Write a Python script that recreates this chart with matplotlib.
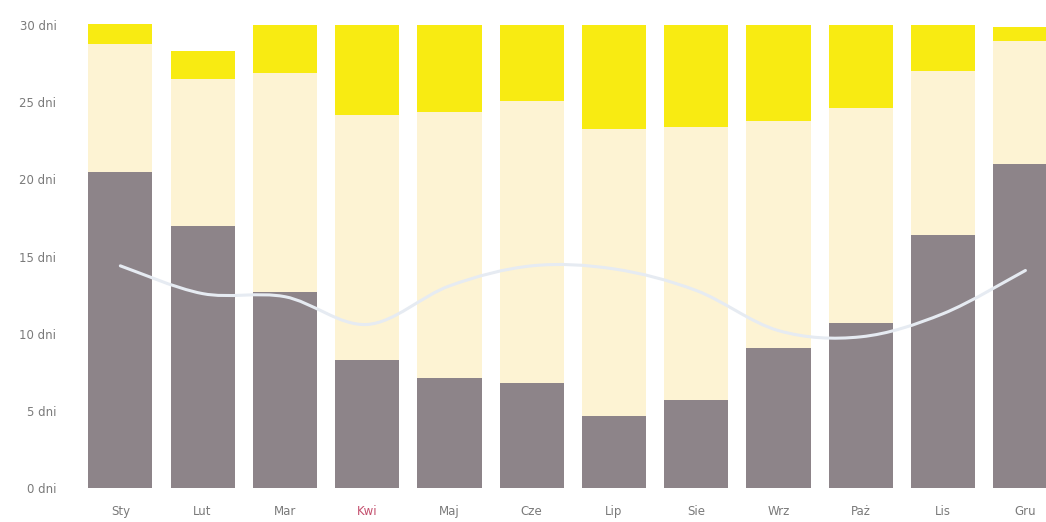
import matplotlib
matplotlib.use("Agg")
import matplotlib.pyplot as plt
from matplotlib.path import Path
from matplotlib.patches import PathPatch
import numpy as np

months = ["Sty", "Lut", "Mar", "Kwi", "Maj", "Cze", "Lip", "Sie", "Wrz", "Paż", "Lis", "Gru"]
dark_days = [20.5, 17.0, 12.7, 8.3, 7.1, 6.8, 4.7, 5.7, 9.1, 10.7, 16.4, 21.0]
cream_days = [8.3, 9.5, 14.2, 15.9, 17.3, 18.3, 18.6, 17.7, 14.7, 13.9, 10.6, 8.0]
yellow_days = [1.3, 1.8, 3.1, 5.8, 5.6, 4.9, 6.7, 6.6, 6.2, 5.4, 3.0, 0.9]
line_values = [14.4, 12.6, 12.4, 10.6, 13.1, 14.4, 14.2, 12.8, 10.2, 9.8, 11.3, 14.1]
ytick_values = [0, 5, 10, 15, 20, 25, 30]
ytick_labels = ["0 dni", "5 dni", "10 dni", "15 dni", "20 dni", "25 dni", "30 dni"]

c_dark = "#8d8489"
c_cream = "#fdf3d3"
c_yellow = "#f8eb12"
c_line = "#e6ebf2"

fig = plt.figure(figsize=(10.46, 5.22), dpi=100)
ax = fig.add_axes([0.0765, 0.0651, 0.9235, 0.8956])
x = np.arange(len(months))
w = 0.78
dark = np.array(dark_days)
cream = np.array(cream_days)
yellow = np.array(yellow_days)
ax.bar(x, dark, width=w, color=c_dark, zorder=2)
ax.bar(x, cream, width=w, bottom=dark, color=c_cream, zorder=2)
ax.bar(x, yellow, width=w, bottom=dark + cream, color=c_yellow, zorder=2)

# smooth line through the points (Catmull-Rom -> Bezier)
pts = np.column_stack([x, line_values]).astype(float)
verts = [tuple(pts[0])]
codes = [Path.MOVETO]
n = len(pts)
for i in range(n - 1):
    p0 = pts[i - 1] if i > 0 else pts[i]
    p1 = pts[i]
    p2 = pts[i + 1]
    p3 = pts[i + 2] if i + 2 < n else pts[i + 1]
    c1 = p1 + (p2 - p0) / 6.0
    c2 = p2 - (p3 - p1) / 6.0
    verts += [tuple(c1), tuple(c2), tuple(p2)]
    codes += [Path.CURVE4] * 3
ax.add_patch(PathPatch(Path(verts, codes), facecolor="none", edgecolor=c_line, lw=2.2, zorder=3, capstyle="round"))

ax.set_xlim(-0.49, 11.25)
ax.set_ylim(0, 30.3)
ax.set_xticks(x)
ax.set_xticklabels(months)
ax.set_yticks(ytick_values)
ax.set_yticklabels(ytick_labels)
for s in ax.spines.values():
    s.set_visible(False)
ax.tick_params(axis="both", length=0, labelsize=8.5, labelcolor="#7a7a7a")
ax.tick_params(axis="y", pad=17)
ax.tick_params(axis="x", pad=12)
for lab in ax.get_xticklabels():
    if lab.get_text() == "Kwi":
        lab.set_color("#c4506e")
fig.savefig("out.png", dpi=100)
